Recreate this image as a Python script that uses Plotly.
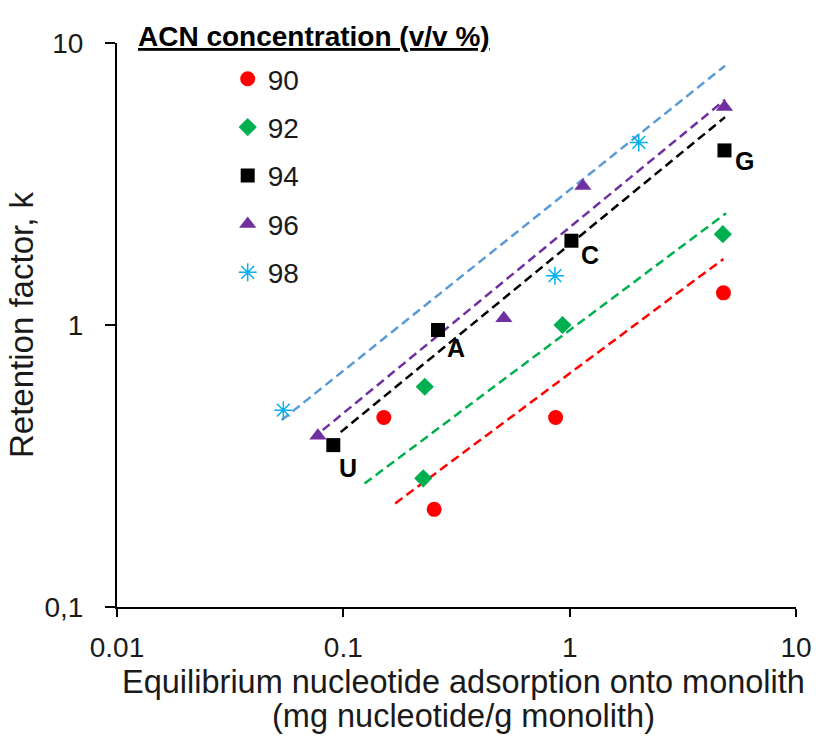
import math
import plotly.graph_objects as go

# ---- data ----
series_names = ["90", "92", "94", "96", "98"]

x_90 = [0.151, 0.252, 0.867, 4.78]
y_90 = [0.470, 0.222, 0.470, 1.30]

x_92 = [0.2255, 0.229, 0.930, 4.75]
y_92 = [0.286, 0.604, 1.00, 2.10]

x_94 = [0.0903, 0.262, 1.018, 4.83]
y_94 = [0.375, 0.960, 1.99, 4.16]
labels_94 = ["U", "A", "C", "G"]

x_96 = [0.0772, 0.512, 1.144, 4.83]
y_96 = [0.405, 1.056, 3.11, 5.93]

x_98 = [0.0543, 0.861, 2.02, 4.83]
y_98 = [0.499, 1.496, 4.44, 11.83]

# power-law trend lines (start / end of each fitted line)
trend_x_90 = [0.1695, 4.78]
trend_y_90 = [0.233, 1.715]
trend_x_92 = [0.124, 4.91]
trend_y_92 = [0.274, 2.49]
trend_x_94 = [0.0973, 4.86]
trend_y_94 = [0.417, 5.46]
trend_x_96 = [0.0811, 4.86]
trend_y_96 = [0.424, 6.29]
trend_x_98 = [0.0534, 4.86]
trend_y_98 = [0.46, 8.31]

x_tickvals = [0.01, 0.1, 1, 10]
x_ticktext = ["0.01", "0.1", "1", "10"]
y_tickvals = [0.1, 1, 10]
y_ticktext = ["0,1", "1", "10"]

x_title_lines = ["Equilibrium nucleotide adsorption onto monolith",
                 "(mg nucleotide/g monolith)"]
y_title = "Retention factor, k"
legend_title = "ACN concentration (v/v %)"

FONT = "Liberation Sans, Arial, sans-serif"
TXT = "#1a1a1a"

# plot area geometry (pixels)
L, R, T, B = 117, 20, 43, 142
W, H = 824, 749
PW, PH = W - L - R, H - T - B


def px_x(p):
    return (p - L) / PW


def px_y(p):
    return 1 - (p - T) / PH


fig = go.Figure()

trend_specs = [
    (trend_x_90, trend_y_90, "#FF0000"),
    (trend_x_92, trend_y_92, "#00B050"),
    (trend_x_94, trend_y_94, "#000000"),
    (trend_x_96, trend_y_96, "#7030A0"),
    (trend_x_98, trend_y_98, "#5B9BD5"),
]
for tx, ty, col in trend_specs:
    fig.add_trace(go.Scatter(x=tx, y=ty, mode="lines", showlegend=False,
                             hoverinfo="skip",
                             line=dict(color=col, width=2.5, dash="9px,5px")))

marker_specs = [
    (x_90, y_90, dict(symbol="circle", size=15, color="#FF0000")),
    (x_92, y_92, dict(symbol="diamond", size=14, color="#00B050")),
    (x_94, y_94, dict(symbol="square", size=14, color="#000000")),
    (x_96, y_96, dict(symbol="triangle-up", size=15, color="#7030A0")),
    (x_98, y_98, dict(symbol="asterisk-open", size=15, color="#00B0F0",
                      line=dict(color="#00B0F0", width=1.5))),
]
for (mx, my, mk), name in zip(marker_specs, series_names):
    fig.add_trace(go.Scatter(x=mx, y=my, mode="markers", name=name,
                             legendgroup=name, marker=mk))

# nucleotide labels next to the 94 % points (log axes -> log10 coords)
label_offsets = [(15, -23), (18, -18), (19, -14), (20, -11)]
for xv, yv, lab, (dx, dy) in zip(x_94, y_94, labels_94, label_offsets):
    fig.add_annotation(x=math.log10(xv), y=math.log10(yv), xref="x", yref="y",
                       text="<b>" + lab + "</b>",
                       showarrow=False, xshift=dx, yshift=dy,
                       font=dict(family=FONT, size=25, color="#000000"))

# legend title (bold, underlined)
fig.add_annotation(x=px_x(136), y=px_y(37), xref="paper", yref="paper",
                   text="<b><u>" + legend_title + "</u></b>",
                   showarrow=False, xanchor="left", yanchor="middle",
                   font=dict(family=FONT, size=28, color="#000000"))

# x-axis title (two lines)
for line, ypx in zip(x_title_lines, [682, 716]):
    fig.add_annotation(x=px_x(468), y=px_y(ypx), xref="paper", yref="paper",
                       text=line, showarrow=False, xanchor="center",
                       yanchor="middle",
                       font=dict(family=FONT, size=32.5, color=TXT))

fig.update_layout(
    width=W, height=H,
    margin=dict(l=L, r=R, t=T, b=B),
    paper_bgcolor="white", plot_bgcolor="white",
    font=dict(family=FONT, size=28, color=TXT),
    showlegend=True,
    legend=dict(x=px_x(229), y=px_y(54),
                xanchor="left", yanchor="top",
                bgcolor="rgba(0,0,0,0)", tracegroupgap=9,
                font=dict(family=FONT, size=28, color=TXT),
                itemwidth=30),
    xaxis=dict(type="log", range=[-2, 1], tickvals=x_tickvals,
               ticktext=x_ticktext, showgrid=False, zeroline=False,
               showline=True, linecolor="#000000", linewidth=2,
               ticks="outside", ticklen=8, tickwidth=2, tickcolor="#000000",
               ticklabelstandoff=6),
    yaxis=dict(type="log", range=[-1, 1], tickvals=y_tickvals,
               ticktext=y_ticktext, showgrid=False, zeroline=False,
               showline=True, linecolor="#000000", linewidth=2,
               ticks="outside", ticklen=10, tickwidth=2, tickcolor="#000000",
               ticklabelstandoff=16,
               title=dict(text=y_title,
                          font=dict(family=FONT, size=33, color=TXT),
                          standoff=1)),
)

fig.write_html("out.html")
